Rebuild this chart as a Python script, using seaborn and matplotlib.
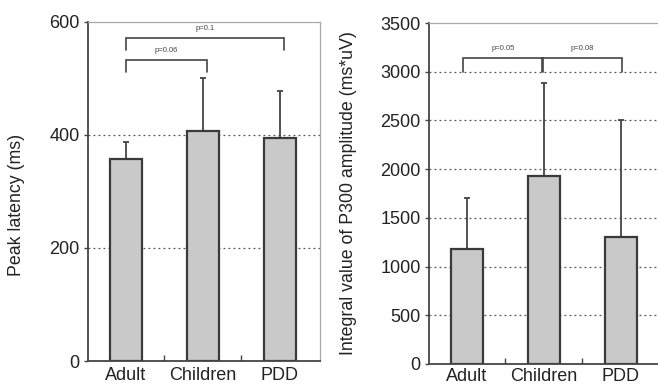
import matplotlib
matplotlib.use("Agg")
import matplotlib.pyplot as plt
import seaborn as sns
import pandas as pd
import numpy as np
from matplotlib.ticker import FixedLocator

sns.set_theme(style="white")
plt.rcParams['font.family'] = ['Liberation Sans', 'DejaVu Sans']

groups = ["Adult", "Children", "PDD"]

latency_mean = [357, 407, 395]
latency_err = [30, 94, 83]

integral_mean = [1180, 1925, 1300]
integral_err = [520, 960, 1200]

# brackets: (left group idx, right group idx, top y, leg bottom y left, leg bottom y right, label)
lat_brackets = [(0, 1, 533, 512, 512, "p=0.06"), (0, 2, 572, 550, 550, "p=0.1")]
int_brackets = [(0, 0.97, 3140, 3000, 3000, "p=0.05"), (1.03, 2, 3140, 3000, 3000, "p=0.08")]

bar_color = "#c9c9c9"
edge = "#3a3a3a"
text_col = "#222222"

fig = plt.figure(figsize=(6.58, 3.88), dpi=100)
ax1 = fig.add_axes([88/658, 27/388, 232/658, 339/388])
ax2 = fig.add_axes([429/658, 24/388, 232/658, 341/388])


def draw(ax, means, errs, ylim, yticks, ylabel, brackets, leg_offsets, xpad):
    df = pd.DataFrame({"group": groups, "value": means})
    ax.set_axisbelow(True)
    for t in yticks[1:-1]:
        ax.axhline(t, color="#555555", lw=0.9, ls=(0, (1.5, 2.5)), zorder=0)
    sns.barplot(data=df, x="group", y="value", ax=ax, color=bar_color,
                edgecolor=edge, linewidth=1.6, width=0.42, saturation=1, zorder=2)
    x = np.arange(len(groups))
    ax.errorbar(x, means, yerr=[np.zeros(len(means)), errs], fmt="none",
                ecolor="#444444", elinewidth=1.3, capsize=2.5, capthick=1.3, zorder=1)
    for (a, b, top, la, lb, lab) in brackets:
        xa = a + leg_offsets[0]
        xb = b + leg_offsets[1]
        ax.plot([xa, xa, xb, xb], [la, top, top, lb], color="#444444", lw=1.2,
                zorder=3, solid_joinstyle="miter")
        ax.text((xa + xb) / 2, top + (ylim[1] - ylim[0]) * 0.018, lab,
                ha="center", va="bottom", fontsize=5.5, color="#444444")
    ax.set_xlim(-0.49, 2.52)
    ax.set_ylim(*ylim)
    ax.set_yticks(yticks)
    ax.set_yticklabels([str(t) for t in yticks], fontsize=13, color=text_col)
    ax.set_xlabel("")
    ax.set_ylabel(ylabel, fontsize=12.8, color=text_col)
    ax.tick_params(axis="x", which="major", length=0, labelsize=13,
                   labelcolor=text_col, pad=xpad)
    ax.tick_params(axis="y", which="major", length=3, width=1, color="#444444",
                   direction="out", pad=3, left=True)
    ax.xaxis.set_minor_locator(FixedLocator([0.5, 1.5]))
    ax.tick_params(axis="x", which="minor", length=4, width=1, color="#444444",
                   direction="in", bottom=True)
    for s in ["left", "bottom"]:
        ax.spines[s].set_color("#444444")
        ax.spines[s].set_linewidth(1.3)
    for s in ["top", "right"]:
        ax.spines[s].set_color("#aaaaaa")
        ax.spines[s].set_linewidth(0.9)


draw(ax1, latency_mean, latency_err, (0, 600), [0, 200, 400, 600],
     "Peak latency (ms)", lat_brackets, (0, 0.05), 4)
draw(ax2, integral_mean, integral_err, (0, 3500),
     [0, 500, 1000, 1500, 2000, 2500, 3000, 3500],
     "Integral value of P300 amplitude (ms*uV)", int_brackets, (-0.05, 0.02), 3)
ax1.yaxis.set_label_coords(-0.27, 0.46)
ax2.yaxis.set_label_coords(-0.31, 0.5)

fig.savefig("out.png", dpi=100)
